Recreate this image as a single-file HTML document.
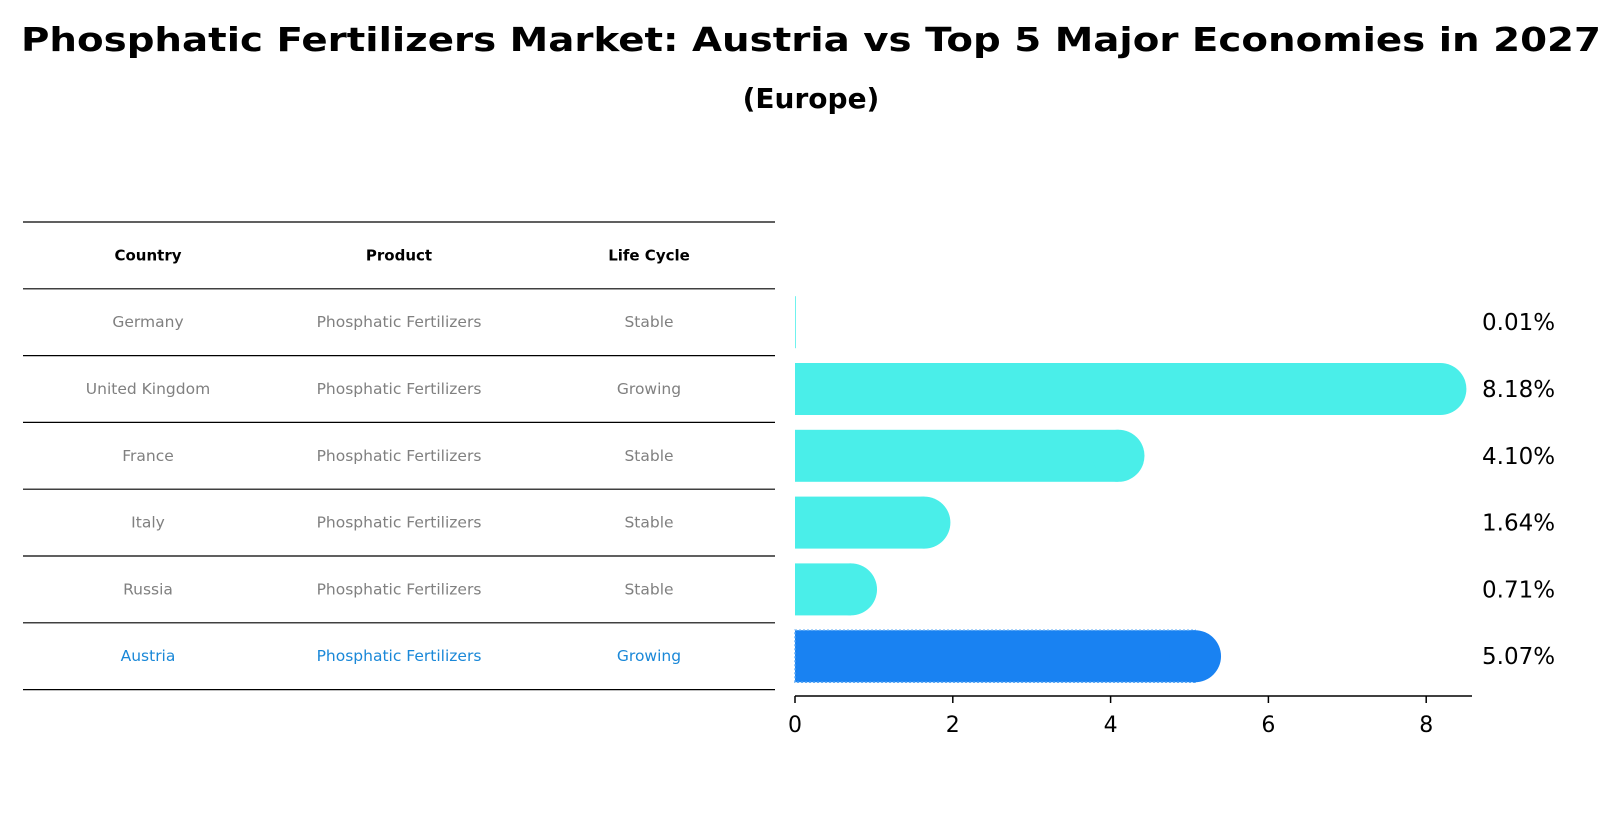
<!DOCTYPE html>
<html><head><meta charset="utf-8"><style>
html,body{margin:0;padding:0;background:#fff;}
svg{display:block;font-family:"DejaVu Sans","Liberation Sans",sans-serif;}
</style></head><body>
<svg id="chart" width="1622" height="823" viewBox="0 0 1622 823">
<text x="811" y="51" text-anchor="middle" font-size="33" font-weight="bold" textLength="1580" lengthAdjust="spacingAndGlyphs">Phosphatic Fertilizers Market: Austria vs Top 5 Major Economies in 2027</text>
<text x="811" y="108" text-anchor="middle" font-size="28" font-weight="bold">(Europe)</text>
<g id="table"></g>
<g id="bars"></g>
</svg>
<script>
const countries=["Germany","United Kingdom","France","Italy","Russia","Austria"];
const products=["Phosphatic Fertilizers","Phosphatic Fertilizers","Phosphatic Fertilizers","Phosphatic Fertilizers","Phosphatic Fertilizers","Phosphatic Fertilizers"];
const lifeCycles=["Stable","Growing","Stable","Stable","Stable","Growing"];
const growthValues=[0.01,8.18,4.10,1.64,0.71,5.07];
const tickValues=[0,2,4,6,8];

const NS="http://www.w3.org/2000/svg";
function mk(tag,attrs,parent){const e=document.createElementNS(NS,tag);for(const k in attrs)e.setAttribute(k,attrs[k]);parent.appendChild(e);return e;}
const x0=795,pxPerUnit=78.9;
function xScale(v){return x0+v*pxPerUnit;}
const rowTop=222,rowH=66.8;
function rowCenter(i){return rowTop+rowH*(i+1)+rowH/2;}

const table=document.getElementById('table');
const colX=[148,399,649];
for(let i=0;i<=countries.length+1;i++){
  const ln=mk('line',{x1:23,x2:775,y1:rowTop+rowH*i,y2:rowTop+rowH*i,stroke:'#000','stroke-width':1.2},table);
  
  
}
const headers=["Country","Product","Life Cycle"];
headers.forEach((h,j)=>{
  const t=mk('text',{x:colX[j],y:rowTop+rowH/2+5,'text-anchor':'middle','font-size':15,'font-weight':'bold'},table);
  t.textContent=h;
  
  
});
countries.forEach((c,i)=>{
  const col=i===countries.length-1?'#1a88d8':'#808080';
  [c,products[i],lifeCycles[i]].forEach((v,j)=>{
    const t=mk('text',{x:colX[j],y:rowCenter(i)+5,'text-anchor':'middle','font-size':15.5,fill:col},table);
    t.textContent=v;
    
    
  });
});

const bars=document.getElementById('bars');
const bh=52;
growthValues.forEach((v,i)=>{
  const isA=i===growthValues.length-1;
  const col=isA?'#1982f2':'#4aeee9';
  const cy=rowCenter(i);
  const xe=xScale(v);
  const r=mk('rect',{x:x0,y:cy-bh/2,width:Math.max(0,xe-x0),height:bh,fill:col},bars);
  
  
  if(isA){mk('rect',{x:x0,y:cy-bh/2,width:Math.max(0,xe-x0),height:bh,fill:'none',stroke:'#5aa8f5','stroke-width':1.5,'stroke-dasharray':'2 2'},bars);}
  if(v>0.1){
    const c=mk('circle',{cx:xe,cy:cy,r:bh/2,fill:col},bars);
    
    
  }
  const t=mk('text',{x:1482,y:cy+8,'font-size':23},bars);
  t.textContent=v.toFixed(2)+'%';
  
  
});
const axY=696;
const ax=mk('line',{x1:x0,x2:1472,y1:axY,y2:axY,stroke:'#000','stroke-width':1.5},bars);


tickValues.forEach(v=>{
  const x=xScale(v);
  const tk=mk('line',{x1:x,x2:x,y1:axY,y2:axY+7,stroke:'#000','stroke-width':1.5},bars);
  
  
  const t=mk('text',{x:x,y:axY+36,'text-anchor':'middle','font-size':22},bars);
  t.textContent=v;
  
  
});
</script>
</body></html>
